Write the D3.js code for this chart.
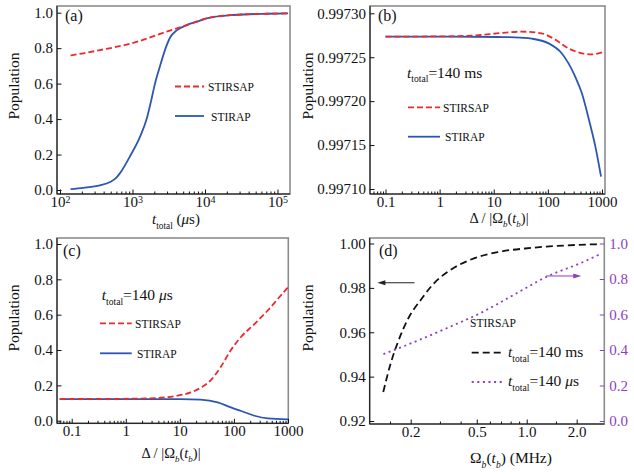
<!DOCTYPE html>
<html>
<head>
<meta charset="utf-8">
<script src="https://cdn.jsdelivr.net/npm/d3@7"></script>
<style>
  body { margin: 0; background: #fff; }
  svg text { font-family: "Liberation Serif", "DejaVu Serif", serif; }
</style>
</head>
<body>
<div id="chart"></div>
<script>
// ===== DATA =====
// (a) population vs total time (us)
const aTimeStirsap = [140, 210, 356, 1025, 2950, 5590, 10550, 24600, 70800, 140000];
const aStirsap     = [0.759, 0.771, 0.789, 0.830, 0.893, 0.930, 0.968, 0.987, 0.994, 0.996];
const aTimeStirap  = [140, 210, 356, 490, 600, 673, 953, 1268, 1567, 1800, 2042, 2400, 2865, 3300, 4060, 5590, 8530, 10550, 24600, 70800, 140000];
const aStirap      = [0.005, 0.012, 0.026, 0.045, 0.07, 0.095, 0.20, 0.30, 0.40, 0.50, 0.60, 0.70, 0.80, 0.86, 0.90, 0.93, 0.955, 0.968, 0.987, 0.994, 0.996];

// (b) t_total = 140 ms
const bDetStirsap = [0.1, 1.4, 5.8, 13.8, 32, 76, 134, 240, 425, 650, 1000];
const bStirsap    = [0.9972734, 0.9972738, 0.9972753, 0.9972776, 0.9972791, 0.9972772, 0.9972704, 0.9972601, 0.9972545, 0.9972533, 0.9972556];
const bDetStirap  = [0.1, 1.4, 12, 24.5, 50, 103, 180, 320, 425, 565, 755, 960];
const bStirap     = [0.9972734, 0.9972734, 0.997273, 0.9972727, 0.9972712, 0.9972658, 0.9972545, 0.9972279, 0.9972089, 0.9971805, 0.9971482, 0.997114];

// (c) t_total = 140 us
const cDetStirsap = [0.06, 1.4, 4.4, 9.0, 15.9, 24.4, 37.5, 57.5, 88, 136, 240, 425, 652, 1000];
const cStirsap    = [0.1226, 0.1245, 0.130, 0.1415, 0.160, 0.1868, 0.230, 0.306, 0.40, 0.475, 0.547, 0.625, 0.69, 0.755];
const cDetStirap  = [0.06, 1.4, 10, 24, 50, 88, 136, 240, 425, 1000];
const cStirap     = [0.1226, 0.1226, 0.122, 0.119, 0.104, 0.075, 0.055, 0.028, 0.013, 0.0075];

// (d) STIRSAP vs Omega_b(t_b) (MHz)
const dOmegaMs = [0.1367, 0.152, 0.167, 0.192, 0.231, 0.278, 0.351, 0.462, 0.668, 1.06, 1.69, 2.74];
const dPopMs   = [0.9331, 0.9463, 0.9553, 0.9658, 0.9748, 0.9823, 0.9883, 0.9928, 0.9961, 0.998, 0.9991, 0.9997];
const dOmegaUs = [0.137, 0.21, 0.334, 0.531, 0.843, 1.34, 2.13, 2.74];
const dPopUs   = [0.377, 0.445, 0.525, 0.61, 0.713, 0.816, 0.891, 0.938];

// tick labels
const aXTicks = [1e2, 1e3, 1e4, 1e5];
const detTicks = [0.1, 1, 10, 100, 1000];
const popTicks = [0, 0.2, 0.4, 0.6, 0.8, 1.0];
const bYTicks = [0.99710, 0.99715, 0.99720, 0.99725, 0.99730];
const dXTicks = [0.2, 0.5, 1.0, 2.0];
const dXMinor = [0.15, 0.3, 0.4, 0.6, 0.7, 0.8, 0.9, 1.5];
const dYTicks = [0.92, 0.94, 0.96, 0.98, 1.00];

// ===== SVG =====
const width = 634, height = 475;
const FONT = "Liberation Serif, DejaVu Serif, serif";
const RED = "#ec2a2e", BLUE = "#2b57b3", PURPLE = "#8b3fc0";

d3.select("#chart").selectAll("*").remove();
const svg = d3.select("#chart").append("svg")
  .attr("width", width).attr("height", height)
  .attr("font-family", FONT);

function logMinor(lo, hi) {
  const out = [];
  for (let e = -3; e <= 6; e++) {
    for (let m = 2; m <= 9; m++) {
      const v = m * Math.pow(10, e);
      if (v > lo && v < hi) out.push(v);
    }
  }
  return out;
}

// text with italic / sub parts
function rich(g, x, y, parts, opts = {}) {
  const size = opts.size || 15.5;
  const t = g.append("text")
    .attr("x", x).attr("y", y)
    .attr("text-anchor", opts.anchor || "start")
    .attr("fill", opts.color || "#111")
    .style("font-family", FONT)
    .style("font-size", size + "px");
  if (opts.rotate) t.attr("transform", `rotate(-90,${x},${y})`);
  let shift = 0;
  parts.forEach(p => {
    const s = typeof p === "string" ? { t: p } : p;
    const want = s.sub ? size * 0.3 : 0;
    const ts = t.append("tspan").text(s.t);
    if (want !== shift) { ts.attr("dy", want - shift); shift = want; }
    if (s.it) ts.style("font-style", "italic");
    if (s.sub) ts.style("font-size", (size * 0.62) + "px");
  });
  return t;
}

function styleAxis(sel, color) {
  sel.attr("font-family", FONT);
  sel.select(".domain").remove();
  sel.selectAll(".tick line").attr("stroke", color || "#111").attr("stroke-width", 1);
  sel.selectAll(".tick text")
    .attr("fill", color || "#111")
    .style("font-size", "15px")
    .style("font-family", FONT);
}

function panel(cfg) {
  const g = svg.append("g");
  const { box, x, y } = cfg;

  g.append("rect")
    .attr("x", box.l).attr("y", box.t)
    .attr("width", box.r - box.l).attr("height", box.b - box.t)
    .attr("fill", "none").attr("stroke", "#8c8c8c").attr("stroke-width", 1.6);

  // bottom axis
  const xa = g.append("g").attr("transform", `translate(0,${box.b})`)
    .call(d3.axisBottom(x).tickValues(cfg.xTicks).tickSizeInner(-4.5).tickSizeOuter(0)
      .tickPadding(2.5).tickFormat(cfg.xFormat || (d => d)));
  styleAxis(xa);
  const minor = cfg.xMinor || logMinor(x.invert(box.l), x.invert(box.r));
  const xm = g.append("g").attr("transform", `translate(0,${box.b})`)
    .call(d3.axisBottom(x).tickValues(minor).tickSizeInner(-2.5).tickSizeOuter(0).tickFormat(""));
  styleAxis(xm);

  // left axis
  const ya = g.append("g").attr("transform", `translate(${box.l},0)`)
    .call(d3.axisLeft(y).tickValues(cfg.yTicks).tickSizeInner(-4.5).tickSizeOuter(0)
      .tickPadding(4).tickFormat(cfg.yFormat));
  styleAxis(ya);

  g.append("line")
    .attr("x1", box.l).attr("x2", box.l).attr("y1", box.t).attr("y2", box.b)
    .attr("stroke", "#111").attr("stroke-width", 1);
  g.append("line")
    .attr("x1", box.l).attr("x2", box.r).attr("y1", box.b).attr("y2", box.b)
    .attr("stroke", "#111").attr("stroke-width", 1);

  if (cfg.sup) {
    xa.selectAll(".tick text").each(function (d) {
      const t = d3.select(this);
      t.text("10");
      t.append("tspan").attr("dy", "-0.45em").style("font-size", "10px")
        .text(Math.round(Math.log10(d)));
    });
  }

  const clip = "clip-" + cfg.id;
  g.append("clipPath").attr("id", clip).append("rect")
    .attr("x", box.l).attr("y", box.t).attr("width", box.r - box.l).attr("height", box.b - box.t);
  const plot = g.append("g").attr("clip-path", `url(#${clip})`);

  return { g, plot };
}

function drawLine(plot, xs, ys, x, y, color, dash, w) {
  const pts = xs.map((v, i) => [v, ys[i]]);
  plot.append("path")
    .datum(pts)
    .attr("fill", "none")
    .attr("stroke", color)
    .attr("stroke-width", w || 1.8)
    .attr("stroke-dasharray", dash || null)
    .attr("d", d3.line().x(d => x(d[0])).y(d => y(d[1])).curve(d3.curveMonotoneX));
}

function legendLine(g, x1, x2, yy, color, dash, w) {
  g.append("line")
    .attr("x1", x1).attr("x2", x2).attr("y1", yy).attr("y2", yy)
    .attr("stroke", color).attr("stroke-width", w || 1.8)
    .attr("stroke-dasharray", dash || null);
}

function label(g, x, y, txt, size) {
  g.append("text").attr("x", x).attr("y", y)
    .style("font-family", FONT)
    .style("font-size", (size || 16) + "px").attr("fill", "#111").text(txt);
}

const detFormat = d => d < 1 ? "0.1" : String(d);
const detTitle = ["\u0394 / |\u03a9", { t: "b", it: true, sub: true }, "(", { t: "t", it: true },
  { t: "b", it: true, sub: true }, ")|"];

// ===== (a) =====
{
  const box = { l: 57, r: 290, t: 6, b: 194 };
  const x = d3.scaleLog().domain([1e2, 1e5]).range([60, 277.5]);
  const y = d3.scaleLinear().domain([0, 1]).range([190, 12.7]);
  const { g, plot } = panel({ id: "a", box, x, y, xTicks: aXTicks, sup: true,
    yTicks: popTicks, yFormat: d3.format(".1f") });
  drawLine(plot, aTimeStirap, aStirap, x, y, BLUE);
  drawLine(plot, aTimeStirsap, aStirsap, x, y, RED, "6,3");
  label(g, 65, 21, "(a)");
  legendLine(g, 175, 204, 86.5, RED, "6,3");
  rich(g, 208, 90.5, ["STIRSAP"], { size: 11.5 });
  legendLine(g, 175, 204, 116, BLUE);
  rich(g, 211, 120.5, ["STIRAP"], { size: 11.5 });
  rich(g, 176, 224, [{ t: "t", it: true }, { t: "total", sub: true }, " (", { t: "\u03bc", it: true }, "s)"], { anchor: "middle", size: 15 });
  rich(g, 19, 86, ["Population"], { anchor: "middle", rotate: true });
}

// ===== (b) =====
{
  const box = { l: 370, r: 605, t: 6, b: 194 };
  const x = d3.scaleLog().domain([0.1, 1000]).range([385.5, 602]);
  const y = d3.scaleLinear().domain([0.99710, 0.99730]).range([189, 13.3]);
  const { g, plot } = panel({ id: "b", box, x, y, xTicks: detTicks, xFormat: detFormat,
    yTicks: bYTicks, yFormat: d3.format(".5f") });
  drawLine(plot, bDetStirap, bStirap, x, y, BLUE);
  drawLine(plot, bDetStirsap, bStirsap, x, y, RED, "6,3");
  label(g, 378, 21, "(b)");
  rich(g, 407, 77.5, [{ t: "t", it: true }, { t: "total", sub: true }, "=140 ms"]);
  legendLine(g, 408, 440, 107.3, RED, "6,3");
  rich(g, 443, 111.5, ["STIRSAP"], { size: 11.5 });
  legendLine(g, 408, 440, 136.7, BLUE);
  rich(g, 445, 141, ["STIRAP"], { size: 11.5 });
  rich(g, 499, 223, detTitle, { anchor: "middle", size: 14.5 });
  rich(g, 313, 86, ["Population"], { anchor: "middle", rotate: true });
}

// ===== (c) =====
{
  const box = { l: 57, r: 288.3, t: 238, b: 423.3 };
  const x = d3.scaleLog().domain([0.1, 1000]).range([71.7, 288]);
  const y = d3.scaleLinear().domain([0, 1]).range([420.7, 244]);
  const { g, plot } = panel({ id: "c", box, x, y, xTicks: detTicks, xFormat: detFormat,
    yTicks: popTicks, yFormat: d3.format(".1f") });
  drawLine(plot, cDetStirap, cStirap, x, y, BLUE);
  drawLine(plot, cDetStirsap, cStirsap, x, y, RED, "6,3");
  label(g, 63, 255.7, "(c)");
  rich(g, 101.7, 300, [{ t: "t", it: true }, { t: "total", sub: true }, "=140 ", { t: "\u03bc", it: true }, "s"]);
  legendLine(g, 100, 131.7, 323.3, RED, "6,3");
  rich(g, 135, 328, ["STIRSAP"], { size: 11.5 });
  legendLine(g, 100, 131.7, 353.3, BLUE);
  rich(g, 137, 357.7, ["STIRAP"], { size: 11.5 });
  rich(g, 171, 458, detTitle, { anchor: "middle", size: 14.5 });
  rich(g, 19, 318, ["Population"], { anchor: "middle", rotate: true });
}

// ===== (d) =====
{
  const box = { l: 369.7, r: 604.3, t: 238, b: 424 };
  const x = d3.scaleLog().domain([0.2, 2.0]).range([410.7, 576.7]);
  const y = d3.scaleLinear().domain([0.92, 1.00]).range([421, 243.5]);
  const yR = d3.scaleLinear().domain([0, 1]).range([421, 243.5]);
  const { g, plot } = panel({ id: "d", box, x, y, xTicks: dXTicks, xMinor: dXMinor,
    xFormat: d3.format(".1f"), yTicks: dYTicks, yFormat: d3.format(".2f") });

  const ra = g.append("g").attr("transform", `translate(${box.r},0)`)
    .call(d3.axisRight(yR).tickValues(popTicks).tickSizeInner(-4.5).tickSizeOuter(0)
      .tickPadding(5).tickFormat(d3.format(".1f")));
  styleAxis(ra, PURPLE);

  drawLine(plot, dOmegaMs, dPopMs, x, y, "#111", "7,4", 1.8);
  drawLine(plot, dOmegaUs, dPopUs, x, yR, PURPLE, "2,3.6", 1.8);
  label(g, 379, 255.7, "(d)");

  // arrows pointing to the matching axis
  const ax1 = x(0.211), ax2 = x(0.126), ay = y(0.9823);
  g.append("line").attr("x1", ax1).attr("x2", ax2 + 5).attr("y1", ay).attr("y2", ay)
    .attr("stroke", "#222").attr("stroke-width", 1);
  g.append("path").attr("d", `M${ax2},${ay}L${ax2 + 8},${ay - 2.6}L${ax2 + 8},${ay + 2.6}Z`).attr("fill", "#222");
  const bx1 = x(1.31), bx2 = x(2.13), by = yR(0.817);
  g.append("line").attr("x1", bx1).attr("x2", bx2 - 5).attr("y1", by).attr("y2", by)
    .attr("stroke", PURPLE).attr("stroke-width", 1);
  g.append("path").attr("d", `M${bx2},${by}L${bx2 - 8},${by - 2.6}L${bx2 - 8},${by + 2.6}Z`).attr("fill", PURPLE);

  rich(g, 470, 326.5, ["STIRSAP"], { size: 11.5 });
  legendLine(g, 471.7, 501.7, 352.7, "#111", "7,4");
  rich(g, 508, 357, [{ t: "t", it: true }, { t: "total", sub: true }, "=140 ms"]);
  legendLine(g, 471.7, 501.7, 382, PURPLE, "2,3.6");
  rich(g, 508, 386, [{ t: "t", it: true }, { t: "total", sub: true }, "=140 ", { t: "\u03bc", it: true }, "s"]);

  rich(g, 511, 463, ["\u03a9", { t: "b", it: true, sub: true }, "(", { t: "t", it: true },
    { t: "b", it: true, sub: true }, ")  (MHz)"], { anchor: "middle" });
  rich(g, 313, 318, ["Population"], { anchor: "middle", rotate: true });
}
</script>
</body>
</html>
